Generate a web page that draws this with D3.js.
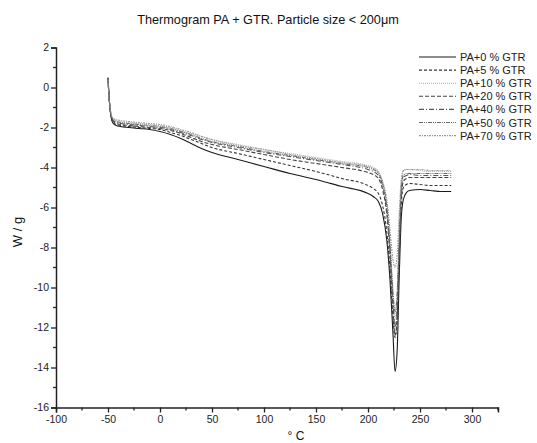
<!DOCTYPE html>
<html>
<head>
<meta charset="utf-8">
<script src="https://cdn.jsdelivr.net/npm/d3@7"></script>
<style>
  body { margin: 0; background: #fff; }
  svg { font-family: "Liberation Sans", Arial, sans-serif; }
</style>
</head>
<body>
<svg id="chart" width="537" height="443"></svg>
<script>
// temperature (°C) sample points, shared by all series
const temps = [-50, -49, -48, -47, -45, -42, -38, -30, -20, -10, 0, 10, 20, 30, 40, 50, 75, 100, 125, 150, 175, 200, 205, 210, 214, 218, 221, 224, 226, 228, 230, 232, 234, 237, 240, 250, 260, 270, 280]

// heat flow (W/g) per sample
const pa0 = [0.5, -0.4, -1.1, -1.5, -1.8, -1.9, -1.95, -2.0, -2.05, -2.1, -2.2, -2.35, -2.55, -2.8, -3.05, -3.25, -3.6, -3.95, -4.3, -4.6, -4.95, -5.3, -5.45, -5.7, -6.3, -7.6, -9.5, -12.3, -14.2, -13.2, -9.5, -6.5, -5.6, -5.25, -5.15, -5.1, -5.15, -5.2, -5.2]
const pa5 = [0.45, -0.45, -1.1, -1.45, -1.75, -1.85, -1.9, -1.95, -2.0, -2.05, -2.1, -2.25, -2.4, -2.6, -2.8, -3.0, -3.3, -3.6, -3.9, -4.2, -4.55, -4.9, -5.05, -5.3, -5.9, -7.2, -9.0, -11.5, -12.5, -11.5, -8.5, -5.8, -5.0, -4.85, -4.8, -4.85, -4.9, -4.9, -4.9]
const pa10 = [0.4, -0.5, -1.0, -1.35, -1.6, -1.65, -1.7, -1.75, -1.8, -1.85, -1.9, -2.0, -2.15, -2.3, -2.45, -2.6, -2.85, -3.1, -3.3, -3.5, -3.7, -3.9, -4.0, -4.2, -4.7, -5.8, -7.5, -10.0, -11.5, -10.5, -7.5, -4.8, -4.2, -4.1, -4.1, -4.15, -4.2, -4.2, -4.2]
const pa20 = [0.45, -0.45, -1.05, -1.4, -1.7, -1.8, -1.85, -1.9, -1.95, -2.0, -2.05, -2.15, -2.3, -2.5, -2.7, -2.85, -3.1, -3.35, -3.6, -3.8, -4.0, -4.25, -4.35, -4.55, -5.1, -6.3, -8.2, -11.0, -12.4, -11.6, -8.5, -5.5, -4.7, -4.55, -4.5, -4.5, -4.5, -4.5, -4.5]
const pa40 = [0.45, -0.5, -1.05, -1.4, -1.65, -1.75, -1.8, -1.85, -1.9, -1.95, -2.0, -2.1, -2.25, -2.4, -2.6, -2.75, -3.0, -3.25, -3.45, -3.65, -3.85, -4.1, -4.2, -4.4, -4.9, -6.1, -8.0, -10.7, -12.0, -11.0, -8.0, -5.2, -4.5, -4.4, -4.35, -4.4, -4.4, -4.4, -4.4]
const pa50 = [0.4, -0.5, -1.0, -1.35, -1.6, -1.7, -1.75, -1.8, -1.85, -1.9, -1.95, -2.05, -2.2, -2.35, -2.55, -2.7, -2.95, -3.2, -3.4, -3.6, -3.8, -4.0, -4.1, -4.3, -4.8, -5.9, -7.8, -10.3, -11.2, -10.3, -7.5, -5.0, -4.4, -4.3, -4.3, -4.3, -4.3, -4.3, -4.3]
const pa70 = [0.4, -0.5, -1.0, -1.35, -1.55, -1.6, -1.65, -1.7, -1.75, -1.8, -1.85, -1.95, -2.1, -2.25, -2.45, -2.6, -2.9, -3.1, -3.35, -3.55, -3.75, -3.95, -4.05, -4.25, -4.7, -5.6, -7.0, -8.6, -9.0, -8.4, -6.3, -4.6, -4.15, -4.1, -4.1, -4.1, -4.15, -4.15, -4.15]

const seriesNames = ['PA+0 % GTR', 'PA+5 % GTR', 'PA+10 % GTR', 'PA+20 % GTR', 'PA+40 % GTR', 'PA+50 % GTR', 'PA+70 % GTR']
const seriesValues = [pa0, pa5, pa10, pa20, pa40, pa50, pa70]

const xTicks = [-100, -50, 0, 50, 100, 150, 200, 250, 300]
const yTicks = [2, 0, -2, -4, -6, -8, -10, -12, -14, -16]

// line looks
const strokes = ['#1a1a1a', '#333', '#aaa', '#444', '#555', '#666', '#999']
const dashes = [null, '3,2', '1,1', '4,2', '5,2,1,2', '4,1,1,1,1,1', '2,1,1,1']

const svg = d3.select('#chart')

let x = d3.scaleLinear().domain([-100, 325]).range([56, 498])
let y = d3.scaleLinear().domain([-16, 2]).range([407.5, 47.5])

// title
svg.append('text')
  .attr('x', 268)
  .attr('y', 24)
  .attr('text-anchor', 'middle')
  .style('font-size', '12.7px')
  .attr('fill', '#111')
  .text('Thermogram PA + GTR. Particle size < 200\u03bcm')

// axes (plain hyphen minus like the original)
let fmt = (d) => String(d)
let xAxis = d3.axisBottom(x).tickValues(xTicks).tickSize(5).tickPadding(3).tickFormat(fmt)
let yAxis = d3.axisLeft(y).tickValues(yTicks).tickSize(5).tickPadding(2).tickFormat(fmt)

let gx = svg.append('g').attr('class', 'x-axis').attr('transform', `translate(0,${y(-16)})`).call(xAxis)
let gy = svg.append('g').attr('class', 'y-axis').attr('transform', `translate(${x(-100)},0)`).call(yAxis)

// minor ticks
gx.selectAll('.minor')
  .data(d3.range(-75, 326, 50))
  .enter()
  .append('line')
  .attr('class', 'minor')
  .attr('x1', (d) => x(d))
  .attr('x2', (d) => x(d))
  .attr('y1', 0)
  .attr('y2', 3)
  .attr('stroke', '#222')
  .attr('stroke-width', 1.3)
gy.selectAll('.minor')
  .data(d3.range(-15, 2, 2))
  .enter()
  .append('line')
  .attr('class', 'minor')
  .attr('y1', (d) => y(d))
  .attr('y2', (d) => y(d))
  .attr('x1', 0)
  .attr('x2', -3)
  .attr('stroke', '#222')
  .attr('stroke-width', 1.3)

svg.selectAll('.domain').attr('stroke', '#222').attr('stroke-width', 1.5)
svg.selectAll('.tick line').attr('stroke', '#222').attr('stroke-width', 1.3)
svg.selectAll('.tick text').style('font-size', '10.5px').attr('fill', '#222')

// axis titles
svg.append('text')
  .attr('transform', 'translate(22,232) rotate(-90)')
  .attr('text-anchor', 'middle')
  .style('font-size', '13px')
  .attr('fill', '#111')
  .text('W / g')
svg.append('text')
  .attr('x', 296)
  .attr('y', 440)
  .attr('text-anchor', 'middle')
  .style('font-size', '12px')
  .attr('fill', '#111')
  .text('\u00b0 C')

// curves
let line = d3.line()
  .x((d) => x(d.t))
  .y((d) => y(d.v))
  .curve(d3.curveMonotoneX)

seriesValues.forEach((vals, i) => {
  let pts = temps.map((t, j) => ({ t: t, v: vals[j] }))
  svg.append('path')
    .datum(pts)
    .attr('d', line)
    .attr('fill', 'none')
    .attr('stroke', strokes[i])
    .attr('stroke-width', 1.1)
    .attr('stroke-dasharray', dashes[i])
})

// legend
let legend = svg.append('g').attr('id', 'legend')
seriesNames.forEach((name, i) => {
  let ly = 57 + i * 13.1
  legend.append('line')
    .attr('x1', 419)
    .attr('x2', 456)
    .attr('y1', ly)
    .attr('y2', ly)
    .attr('stroke', strokes[i])
    .attr('stroke-width', 1.1)
    .attr('stroke-dasharray', dashes[i])
  legend.append('text')
    .attr('x', 460)
    .attr('y', ly + 4)
    .style('font-size', '11px')
    .attr('fill', '#222')
    .text(name)
})
</script>
</body>
</html>
